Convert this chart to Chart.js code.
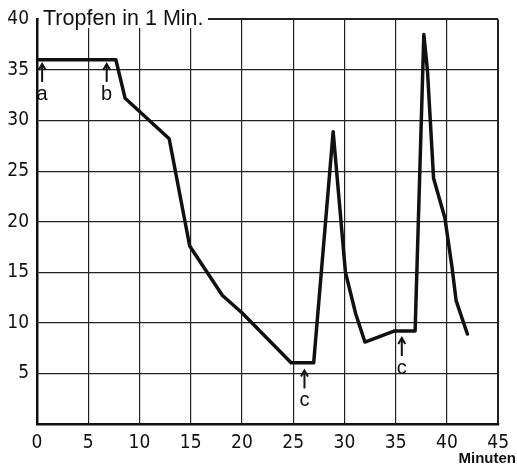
<!DOCTYPE html>
<html>
<head>
<meta charset="utf-8">
<title>Tropfen in 1 Min.</title>
<script src="https://cdn.jsdelivr.net/npm/chart.js@4.4.1/dist/chart.umd.min.js"></script>
<style>
  body { margin: 0; background: #fff; }
  #wrap { width: 517px; height: 465px; position: relative; }
</style>
</head>
<body>
<div id="wrap"><canvas id="myChart" width="517" height="465"></canvas></div>
<script>

// the curve (minutes / drops per minute)
var minutes = [0, 7.7, 8.6, 12.9, 14.9, 18.1, 20.0, 24.8, 27.0, 28.9, 30.1, 31.1, 32.0, 34.9, 36.9, 37.75, 38.1, 38.7, 39.8, 40.5, 40.9, 42.0];
var drops   = [36, 36, 32.2, 28.2, 17.6, 12.7, 11.0, 6.05, 6.05, 28.9, 15.0, 10.9, 8.1, 9.2, 9.2, 38.5, 35.0, 24.3, 20.4, 15.5, 12.2, 8.9];

// tick labels
var xTicks = [0, 5, 10, 15, 20, 25, 30, 35, 40, 45];
var yTicks = [5, 10, 15, 20, 25, 30, 35, 40];

// little arrows with letters (a, b, c, c) - minute and value of the arrow tip
var markLetters = ['a', 'b', 'c', 'c'];
var markMinutes = [0.5, 6.8, 26.1, 35.6];
var markValues  = [35.6, 35.6, 5.3, 8.5];

var titleText = 'Tropfen in 1 Min.';
var unitText = 'Minuten';

var tickFont = '"DejaVu Sans Condensed", "Liberation Sans Narrow", "Liberation Sans", sans-serif';

// build the dataset from the arrays
var points = [];
for (let i = 0; i < minutes.length; i++) {
  points.push({ x: minutes[i], y: drops[i] });
}

// plugin for the title, the arrows and the "Minuten" label
var extras = {
  id: 'extras',
  afterDatasetsDraw: function (chart) {
    var ctx = chart.ctx;
    var xs = chart.scales.x;
    var ys = chart.scales.y;
    var area = chart.chartArea;

    ctx.save();
    // title sits over the top frame line, so blank it out first
    ctx.fillStyle = '#fff';
    ctx.fillRect(area.left + 2, 0, 169, 28);
    ctx.fillStyle = '#111';
    ctx.font = '21.5px "Liberation Sans", sans-serif';
    ctx.textAlign = 'left';
    ctx.textBaseline = 'alphabetic';
    ctx.fillText(titleText, area.left + 6, 25);

    // arrows
    ctx.strokeStyle = '#111';
    ctx.lineWidth = 2;
    ctx.font = '20px "Liberation Sans", sans-serif';
    ctx.textAlign = 'center';
    for (let i = 0; i < markLetters.length; i++) {
      var px = xs.getPixelForValue(markMinutes[i]);
      var py = ys.getPixelForValue(markValues[i]);
      ctx.beginPath();
      ctx.moveTo(px, py + 2);
      ctx.lineTo(px, py + 18);
      ctx.stroke();
      ctx.beginPath();
      ctx.moveTo(px - 3.5, py + 6);
      ctx.lineTo(px, py);
      ctx.lineTo(px + 3.5, py + 6);
      ctx.stroke();
      ctx.fillText(markLetters[i], px, py + 36);
    }

    // unit under the x axis
    ctx.font = 'bold 15px "Liberation Sans", sans-serif';
    ctx.textAlign = 'right';
    ctx.fillText(unitText, 516, 463);
    ctx.restore();
  }
};

var canvas = document.getElementById('myChart');
var setup = {
  type: 'line',
  data: {
    datasets: [{
      data: points,
      borderColor: '#111',
      borderWidth: 3.5,
      borderJoinStyle: 'round',
      borderCapStyle: 'round',
      pointRadius: 0,
      tension: 0,
      fill: false
    }]
  },
  options: {
    responsive: false,
    animation: false,
    layout: { padding: { top: 19, right: 18, left: 0, bottom: 0 } },
    plugins: {
      legend: { display: false },
      tooltip: { enabled: false },
      title: { display: false }
    },
    scales: {
      x: {
        type: 'linear',
        min: 0,
        max: 45,
        afterFit: function (scale) { scale.height = 41; },
        afterBuildTicks: function (scale) {
          scale.ticks = xTicks.map(function (v) { return { value: v }; });
        },
        grid: {
          color: '#222',
          lineWidth: function (c) { return c.tick && c.tick.value === 45 ? 2 : 1.2; },
          tickLength: 0,
          drawTicks: false
        },
        border: { display: true, color: '#111', width: 2.5 },
        ticks: {
          color: '#111',
          padding: 8,
          maxRotation: 0,
          font: { family: tickFont, size: 19 }
        }
      },
      y: {
        type: 'linear',
        min: 0,
        max: 40,
        afterFit: function (scale) { scale.width = 37; },
        afterBuildTicks: function (scale) {
          scale.ticks = [0].concat(yTicks).map(function (v) { return { value: v }; });
        },
        grid: {
          color: '#222',
          lineWidth: function (c) { return c.tick && c.tick.value === 40 ? 2 : 1.2; },
          drawTicks: false
        },
        border: { display: true, color: '#111', width: 2.5 },
        ticks: {
          color: '#111',
          padding: 8,
          font: { family: tickFont, size: 19 },
          // no "0" on the value axis
          callback: function (v) { return v === 0 ? '' : v; }
        }
      }
    }
  },
  plugins: [extras]
};

var chart = new Chart(canvas, setup);
console.log('chart drawn', chart.chartArea);
</script>
</body>
</html>
